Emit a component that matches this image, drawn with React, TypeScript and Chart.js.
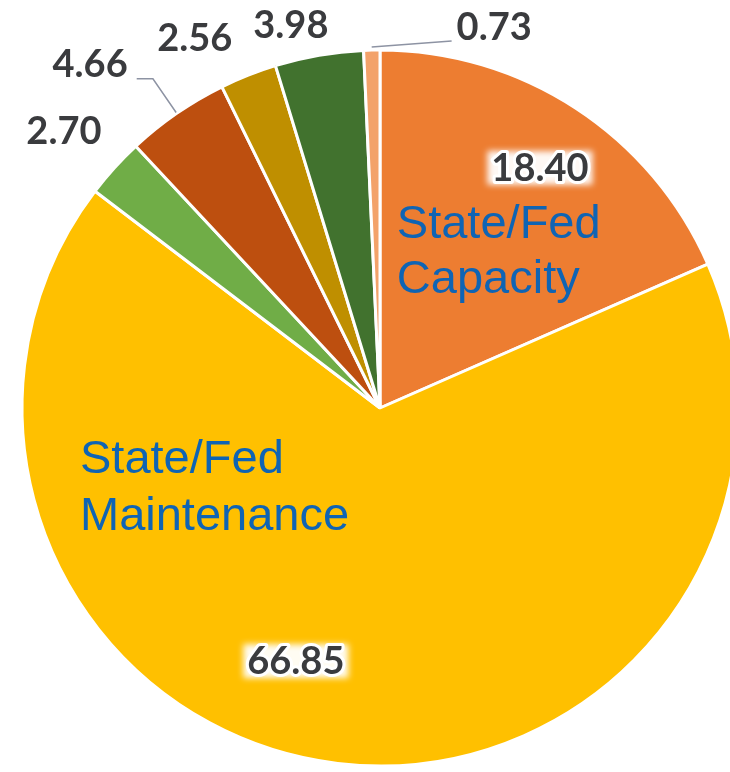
import React, { useEffect, useRef } from "react";
import { Chart, registerables } from "chart.js";

Chart.register(...registerables);

// ---- data ----
const categories = [
  "State/Fed Capacity",
  "State/Fed Maintenance",
  "Category C",
  "Category D",
  "Category E",
  "Category F",
  "Category G",
];
const values = [18.4, 66.85, 2.7, 4.66, 2.56, 3.98, 0.73];
const sliceColors = ["#ED7D31", "#FFC000", "#70AD47", "#BD4F0F", "#BF8F00", "#41722E", "#F3A26A"];
// category names drawn inside slices (index -> lines)
const insideNames: { [k: number]: string[] } = {
  0: ["State/Fed", "Capacity"],
  1: ["State/Fed", "Maintenance"],
};

// ---- layout (label placement relative to slice: radius factor, degrees offset from mid-angle) ----
const VALUE_LABEL_POLAR: [number, number][] = [
  [0.806, 0.5],
  [0.745, 11.6],
  [1.174, -0.9],
  [1.257, -5.5],
  [1.156, -5.0],
  [1.098, -3.3],
  [1.111, 18.0],
];
const HALO = [true, true, false, false, false, false, false];
// name text block: offset from pie centre in radius units (left x, first baseline y), line gap in radius units
const NAME_POS: { [k: number]: [number, number, number] } = {
  0: [0.047, -0.475, 0.154],
  1: [-0.838, 0.182, 0.159],
};

const labelPlugin = {
  id: "sliceLabels",
  afterDatasetsDraw(chart: any) {
    const ctx: CanvasRenderingContext2D = chart.ctx;
    const meta = chart.getDatasetMeta(0);
    const valueFont = "bold 38px Lato";
    meta.data.forEach((arc: any, i: number) => {
      const { x, y, startAngle, endAngle, outerRadius } = arc.getProps(
        ["x", "y", "startAngle", "endAngle", "outerRadius"],
        true
      );
      const mid = (startAngle + endAngle) / 2;
      const [rf, off] = VALUE_LABEL_POLAR[i];
      const a = mid + (off * Math.PI) / 180;
      const lx = x + Math.cos(a) * outerRadius * rf;
      const ly = y + Math.sin(a) * outerRadius * rf;
      const text = values[i].toFixed(2);

      ctx.save();
      ctx.font = valueFont;
      ctx.textAlign = "center";
      ctx.textBaseline = "middle";
      const w = ctx.measureText(text).width;

      // leader lines
      ctx.strokeStyle = "#8d93a3";
      ctx.lineWidth = 1.5;
      if (i === 3) {
        const ex = x + Math.cos(mid) * (outerRadius + 1);
        const ey = y + Math.sin(mid) * (outerRadius + 1);
        const bx = x + Math.cos(mid) * outerRadius * 1.117;
        const by = y + Math.sin(mid) * outerRadius * 1.117;
        ctx.beginPath();
        ctx.moveTo(ex, ey);
        ctx.lineTo(bx, by);
        ctx.lineTo(lx + w / 2 + 9, by);
        ctx.stroke();
      } else if (i === 6) {
        const ex = x + Math.cos(mid) * (outerRadius + 3);
        const ey = y + Math.sin(mid) * (outerRadius + 3);
        ctx.beginPath();
        ctx.moveTo(ex, ey);
        ctx.lineTo(lx - w / 2 - 5, ly + 14);
        ctx.stroke();
      }

      if (HALO[i]) {
        ctx.save();
        ctx.filter = "blur(3px)";
        ctx.fillStyle = "rgba(255,255,255,0.95)";
        ctx.fillRect(lx - w / 2 - 4, ly - 17, w + 8, 34);
        ctx.restore();
        ctx.save();
        ctx.strokeStyle = "#ffffff";
        ctx.lineWidth = 6;
        ctx.lineJoin = "round";
        ctx.font = valueFont;
        ctx.textAlign = "center";
        ctx.textBaseline = "middle";
        ctx.strokeText(text, lx, ly + 1);
        ctx.restore();
      }
      ctx.fillStyle = "#3a3b3e";
      ctx.fillText(text, lx, ly + 1);
      ctx.restore();

      const names = insideNames[i];
      if (names) {
        const [nx, ny, gap] = NAME_POS[i];
        ctx.save();
        ctx.font = "47px 'Liberation Sans'";
        ctx.fillStyle = "#0F64B4";
        ctx.textAlign = "left";
        ctx.textBaseline = "alphabetic";
        names.forEach((line, k) => {
          ctx.fillText(line, x + nx * outerRadius, y + (ny + gap * k) * outerRadius);
        });
        ctx.restore();
      }
    });
  },
};

export default function App() {
  const ref = useRef<HTMLCanvasElement | null>(null);
  useEffect(() => {
    if (!ref.current) return;
    const chart = new Chart(ref.current, {
      type: "pie",
      data: {
        labels: categories,
        datasets: [
          {
            data: values,
            backgroundColor: sliceColors,
            borderColor: "#ffffff",
            borderWidth: 3,
          },
        ],
      },
      options: {
        responsive: false,
        animation: false,
        radius: 358,
        rotation: 0,
        layout: { padding: 0 },
        plugins: {
          legend: { display: false },
          tooltip: { enabled: false },
        },
      } as any,
      plugins: [labelPlugin],
    });
    if ((document as any).fonts && (document as any).fonts.ready) {
      (document as any).fonts.ready.then(() => chart.draw());
    }
    return () => chart.destroy();
  }, []);
  return (
    <div
      style={{
        position: "fixed",
        left: 0,
        top: 0,
        width: 730,
        height: 772,
        overflow: "hidden",
        background: "#ffffff",
      }}
    >
      <canvas ref={ref} width={760} height={816} style={{ display: "block" }} />
    </div>
  );
}
